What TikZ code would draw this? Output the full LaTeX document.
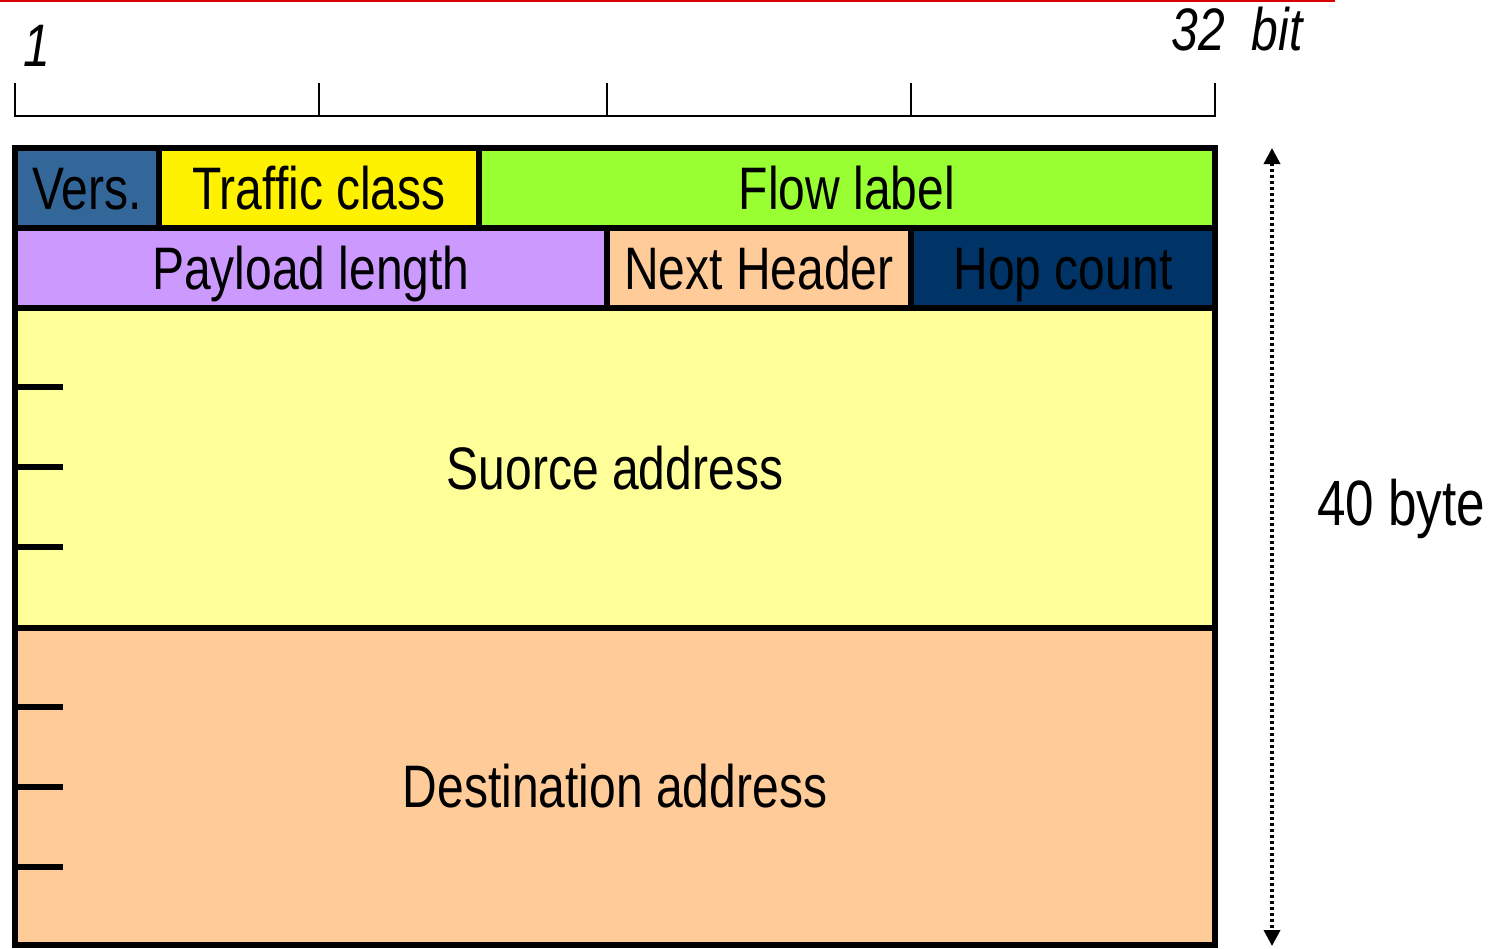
\documentclass[tikz,border=0pt]{standalone}
\usepackage{fontspec}
\setmainfont[FakeStretch=0.8]{Liberation Sans}
\usetikzlibrary{arrows.meta}
\begin{document}
\begin{tikzpicture}[x=0.5pt,y=-0.5pt,
  field/.style={draw=black, line width=3pt, line join=miter, inner sep=0pt, outer sep=0pt,
    font=\fontsize{30}{36}\selectfont, text height=21pt, text depth=0pt, anchor=center},
  tickmark/.style={line width=3pt},
  ruler/.style={line width=1pt},
  lbl/.style={font=\fontsize{30}{36}\selectfont, inner sep=0pt, anchor=base}
]
\useasboundingbox (0,0) rectangle (1502,948);
% red top line
\draw[red!85!black, line width=1pt] (0,1) -- (1335,1);
% ruler
\coordinate (r0) at (15,116); \coordinate (r4) at (1215,116);
\draw[ruler] (15,83) -- (r0) -- (r4) -- (1215,83);
\foreach \x in {319,607,911} \draw[ruler] (\x,116) -- (\x,83);
\node[lbl, font=\fontsize{30}{36}\selectfont\itshape] (one) at (37,66) {1};
\node[lbl, font=\fontsize{30}{36}\selectfont\itshape] (bits) at (1237,50) {32\ \ bit};
% fields
\node[field, fill={rgb,255:red,51;green,102;blue,153}, minimum width=72pt, minimum height=40pt] (vers) at (87,188) {Vers.};
\node[field, fill=yellow, minimum width=160pt, minimum height=40pt] (tc) at (319,188) {Traffic class};
\node[field, fill={rgb,255:red,153;green,255;blue,51}, minimum width=368pt, minimum height=40pt] (fl) at (847,188) {Flow label};
\node[field, fill={rgb,255:red,204;green,153;blue,255}, minimum width=296pt, minimum height=40pt] (pl) at (311,268) {Payload length};
\node[field, fill={rgb,255:red,255;green,204;blue,153}, minimum width=152pt, minimum height=40pt] (nh) at (759,268) {Next Header};
\node[field, fill={rgb,255:red,0;green,51;blue,102}, minimum width=152pt, minimum height=40pt] (hc) at (1063,268) {Hop count};
\node[field, fill={rgb,255:red,255;green,255;blue,153}, minimum width=600pt, minimum height=160pt] (src) at (615,468) {Suorce address};
\node[field, fill={rgb,255:red,255;green,204;blue,153}, minimum width=600pt, minimum height=158.5pt] (dst) at (615,786.5) {Destination address};
% ticks inside addresses
\foreach \y in {387,467,547,707,787,867} \draw[tickmark] (15,\y) -- (63,\y);
% size arrow
\coordinate (atop) at (1272,148);
\coordinate (abot) at (1272,946);
\draw[line width=1.75pt, dash pattern=on 1.5pt off 1.5pt, {Triangle[width=8pt,length=8pt]}-{Triangle[width=8pt,length=8pt]}] (atop) -- (abot);
\node[lbl, font=\fontsize{32}{38}\selectfont] (size) at (1401,525) {40 byte};
\end{tikzpicture}
\end{document}
